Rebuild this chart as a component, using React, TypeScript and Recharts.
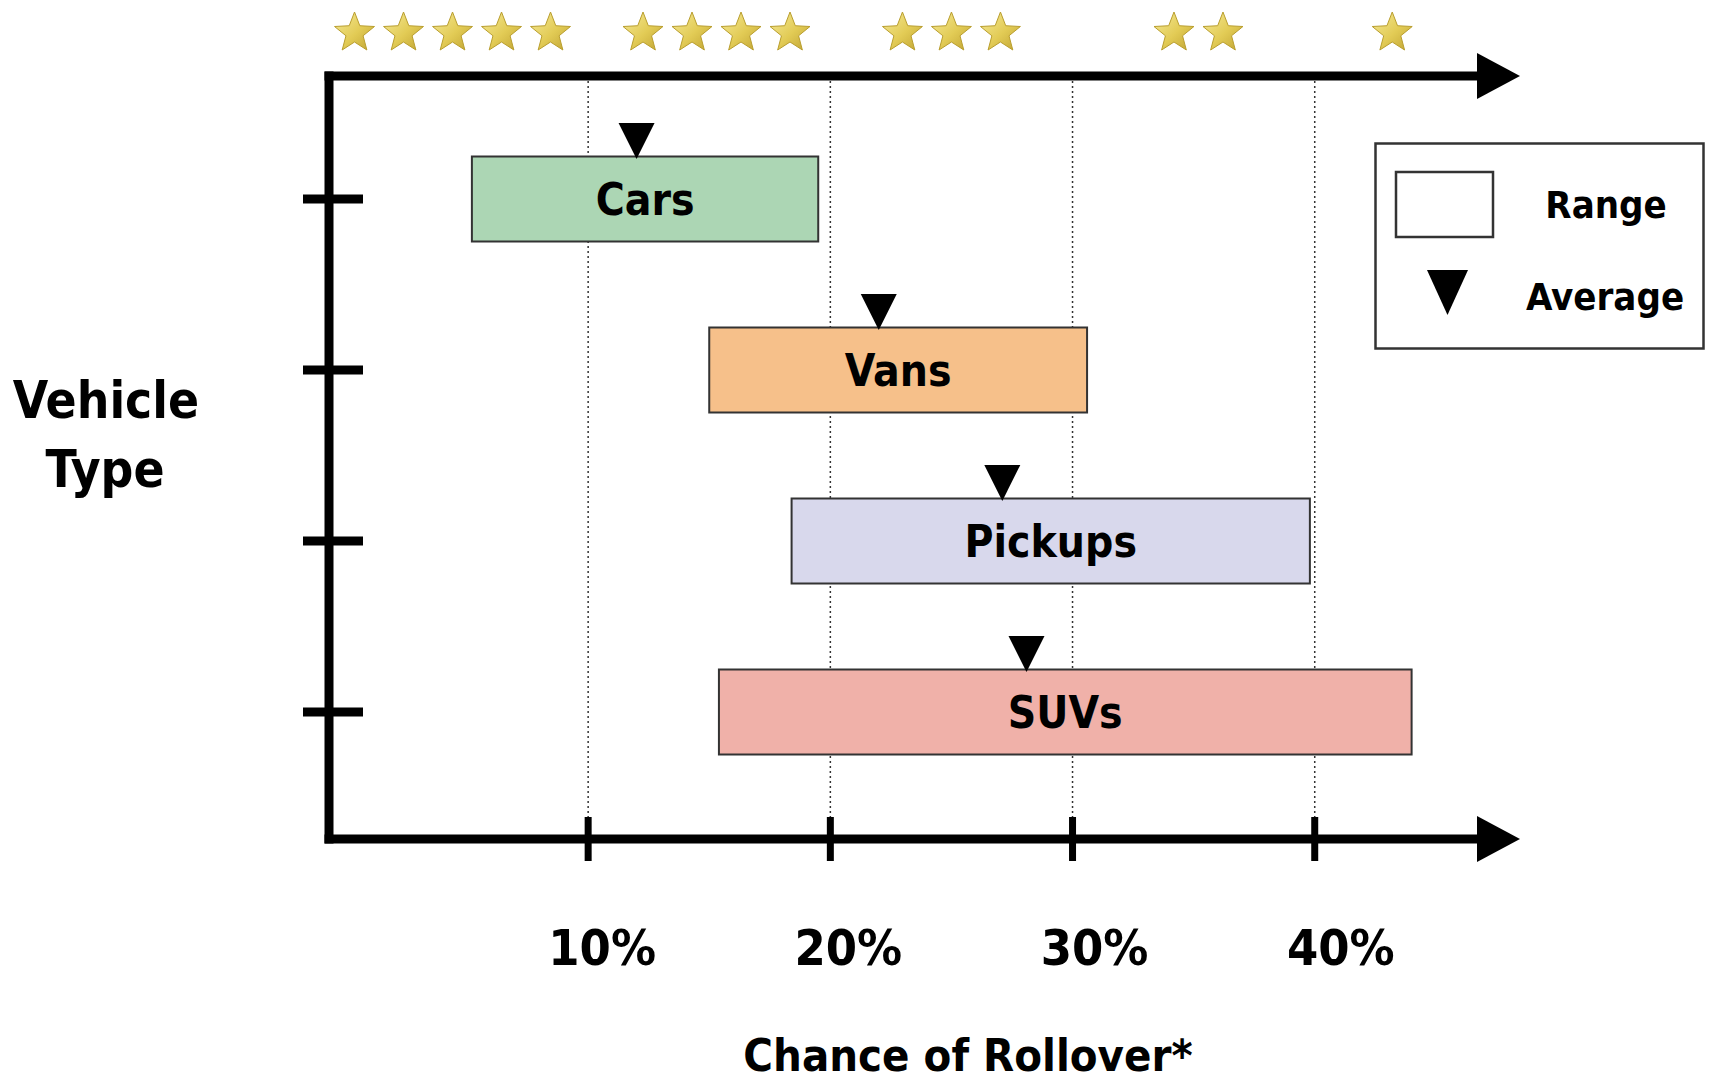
import { ComposedChart, Bar, Scatter, XAxis, YAxis, CartesianGrid, Cell, LabelList, Legend } from 'recharts'

// Rollover risk ranges by vehicle type, values in percent.
const vehicleTypes = ['Cars', 'Vans', 'Pickups', 'SUVs']
const rangeLow = [5.2, 15.0, 18.4, 15.4]
const rangeHigh = [19.5, 30.6, 39.8, 44.0]
const averages = [12.0, 22.0, 27.1, 28.1]
const barColors = ['#ACD6B4', '#F6C08A', '#D8D8EC', '#F0B1A9']

const percentTicks = [10, 20, 30, 40]
// star rating bands shown above the chart
const starGroupCenters = [4.4, 15.3, 25.0, 35.2, 43.2]
const starCounts = [5, 4, 3, 2, 1]

const FONT = "'DejaVu Sans Condensed', 'DejaVu Sans', sans-serif"
const X_DOMAIN: [number, number] = [-0.7, 46.7]

const chartData = vehicleTypes.map((type, i) => ({
  type,
  range: [rangeLow[i], rangeHigh[i]],
  avg: averages[i],
}))

function starPoints(cx: number, cy: number, outer: number, inner: number) {
  const pts: string[] = []
  for (let k = 0; k < 10; k++) {
    const r = k % 2 === 0 ? outer : inner
    const a = -Math.PI / 2 + (k * Math.PI) / 5
    pts.push(`${cx + r * Math.cos(a)},${cy + r * Math.sin(a)}`)
  }
  return pts.join(' ')
}

function StarTick(props: any) {
  const { x, y, payload } = props
  const idx = starGroupCenters.indexOf(payload.value)
  const n = starCounts[idx] ?? 0
  const gap = 49
  const start = x - ((n - 1) * gap) / 2
  return (
    <g>
      {Array.from({ length: n }, (_, k) => (
        <polygon
          key={k}
          points={starPoints(start + k * gap, y - 43, 21, 9)}
          fill="url(#starGold)"
          stroke="#B99E2E"
          strokeWidth={1}
        />
      ))}
    </g>
  )
}

function PercentTick(props: any) {
  const { x, y, payload } = props
  // labels sit a little right of their tick marks, drifting further right along the axis
  const lx = x + 14 + (payload.value - 10) * 0.4
  return (
    <g>
      <line x1={x} x2={x} y1={y - 22} y2={y + 22} stroke="#000" strokeWidth={7} />
      <text x={lx} y={y + 126} textAnchor="middle" fontFamily={FONT} fontWeight="bold" fontSize={50} fill="#000">
        {payload.value}%
      </text>
    </g>
  )
}

function RowTick(props: any) {
  const { x, y } = props
  return <line x1={x - 26} x2={x + 34} y1={y} y2={y} stroke="#000" strokeWidth={9} />
}

function AverageMarker(props: any) {
  const { cx, cy } = props
  if (cx == null || cy == null) return null
  const tip = cy - 40
  return <polygon points={`${cx - 18},${tip - 36} ${cx + 18},${tip - 36} ${cx},${tip}`} fill="#000" />
}

function VehicleTypeLabel(props: any) {
  const vb = props.viewBox || { x: 0 }
  return (
    <g fontFamily={FONT} fontWeight="bold" fontSize={51} fill="#000" textAnchor="middle">
      <text x={vb.x + 106} y={418}>Vehicle</text>
      <text x={vb.x + 105} y={487}>Type</text>
    </g>
  )
}

function AxisTitle(props: any) {
  const vb = props.viewBox
  return (
    <text
      x={vb.x + vb.width / 2 + 65}
      y={vb.y + 232}
      textAnchor="middle"
      fontFamily={FONT}
      fontWeight="bold"
      fontSize={45}
      fill="#000"
    >
      Chance of Rollover*
    </text>
  )
}

function RangeLegend() {
  return (
    <svg width={331} height={208} style={{ display: 'block' }}>
      <rect x={1.5} y={1.5} width={328} height={205} fill="#fff" stroke="#333" strokeWidth={2.5} />
      <rect x={22} y={30} width={97} height={65} fill="#fff" stroke="#333" strokeWidth={2.5} />
      <polygon points="53,128 94,128 73.5,173" fill="#000" />
      <g fontFamily={FONT} fontWeight="bold" fontSize={38} fill="#000" textAnchor="middle">
        <text x={232} y={76}>Range</text>
        <text x={231} y={168}>Average</text>
      </g>
    </svg>
  )
}

export default function App() {
  return (
    <div style={{ position: 'absolute', left: 0, top: 0, width: 1709, height: 1083, background: '#fff' }}>
      <ComposedChart
        width={1709}
        height={1083}
        data={chartData}
        layout="vertical"
        margin={{ top: 0, right: 232, bottom: 0, left: 0 }}
      >
        <defs>
          <marker id="axisArrow" markerUnits="userSpaceOnUse" markerWidth={46} markerHeight={48} refX={0} refY={24} orient="auto">
            <path d="M0,1 L43,24 L0,47 Z" fill="#000" />
          </marker>
          <linearGradient id="starGold" x1="0" y1="0" x2="1" y2="1">
            <stop offset="0%" stopColor="#F6EA9A" />
            <stop offset="55%" stopColor="#E2CB55" />
            <stop offset="100%" stopColor="#BFA232" />
          </linearGradient>
        </defs>
        <CartesianGrid horizontal={false} syncWithTicks stroke="#333" strokeWidth={1.5} strokeDasharray="2 3" />
        <XAxis
          type="number"
          domain={X_DOMAIN}
          ticks={percentTicks}
          interval={0}
          height={244}
          tickSize={0}
          tickMargin={0}
          tickLine={false}
          tick={PercentTick}
          axisLine={{ stroke: '#000', strokeWidth: 9, strokeLinecap: 'square', markerEnd: 'url(#axisArrow)' }}
          label={{ content: AxisTitle }}
          allowDataOverflow
        />
        <XAxis
          xAxisId="top"
          orientation="top"
          type="number"
          domain={X_DOMAIN}
          ticks={starGroupCenters}
          interval={0}
          height={76}
          tickSize={0}
          tickMargin={0}
          tickLine={false}
          tick={StarTick}
          axisLine={{ stroke: '#000', strokeWidth: 9, strokeLinecap: 'square', markerEnd: 'url(#axisArrow)' }}
          allowDataOverflow
        />
        <YAxis
          type="category"
          dataKey="type"
          width={329}
          padding={{ top: 37.5, bottom: 41.5 }}
          interval={0}
          tickSize={0}
          tickMargin={0}
          tickLine={false}
          tick={RowTick}
          axisLine={{ stroke: '#000', strokeWidth: 9, strokeLinecap: 'square' }}
          label={{ content: VehicleTypeLabel }}
        />
        <Bar dataKey="range" barSize={85} stroke="#333" strokeWidth={2} isAnimationActive={false}>
          {chartData.map((d, i) => (
            <Cell key={d.type} fill={barColors[i]} />
          ))}
          <LabelList dataKey="type" position="center" fill="#000" fontSize={44} fontWeight="bold" fontFamily={FONT} />
        </Bar>
        <Scatter dataKey="avg" shape={AverageMarker} isAnimationActive={false} />
        <Legend
          layout="horizontal"
          verticalAlign="middle"
          align="center"
          wrapperStyle={{ position: 'absolute', left: 1374, top: 142, width: 331, height: 208 }}
          content={() => <RangeLegend />}
        />
      </ComposedChart>
    </div>
  )
}
